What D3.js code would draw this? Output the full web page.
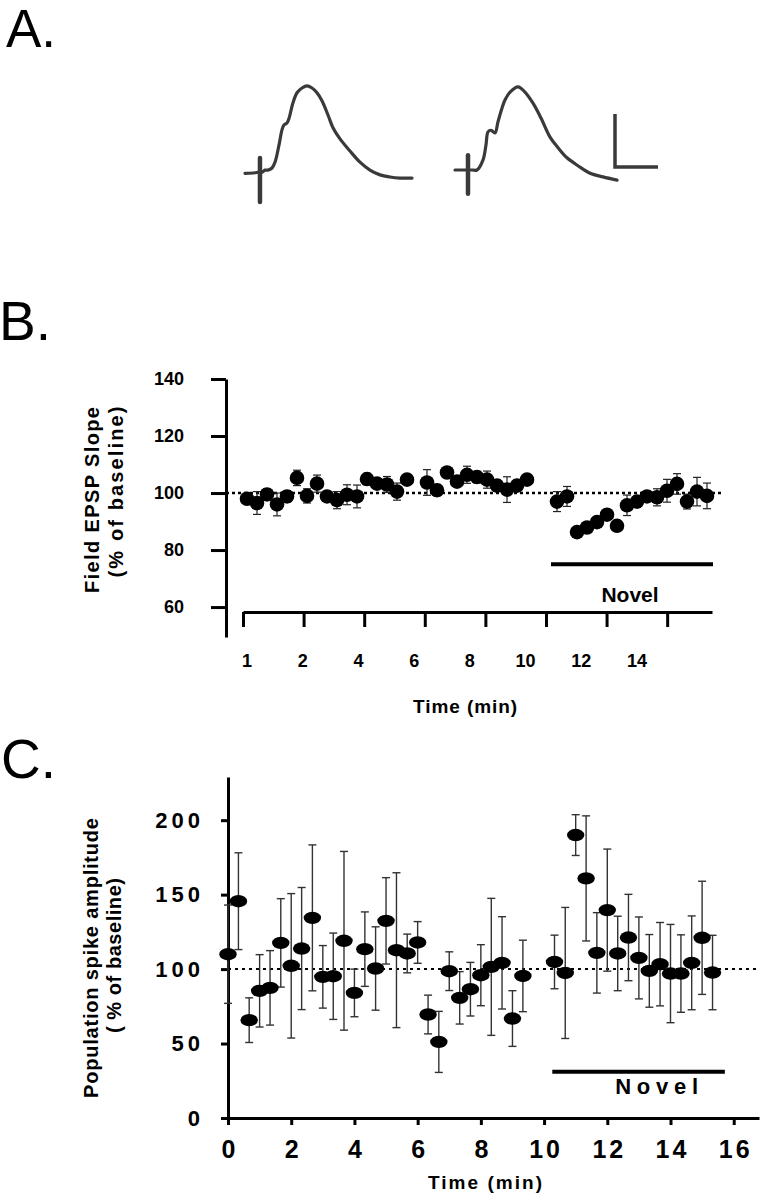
<!DOCTYPE html>
<html><head><meta charset="utf-8">
<script src="https://cdn.jsdelivr.net/npm/d3@7"></script>
<style>
body{margin:0;background:#fff}
svg{display:block}
text{font-family:"Liberation Sans",Arial,Helvetica,sans-serif}
</style>
</head><body>
<svg id="chart" width="780" height="1200"></svg>
<script>
// ---------- Panel A: example field traces (ms, mV) ----------
const traceT1 = [0,1.16,1.51,1.98,2.33,2.67,3.14,3.49,3.95,4.30,4.53,4.88,5.12,5.58,6.05,6.63,7.21,7.79,8.37,8.95,9.65,10.23,11.05,12.21,13.37,14.53,15.70,16.86,18.02,19.42];
const traceV1 = [0,0.01,0.02,0.02,0.06,0.06,0.10,0.21,0.53,0.82,0.91,0.95,1.04,1.33,1.52,1.61,1.65,1.61,1.52,1.37,1.10,0.86,0.65,0.42,0.21,0.06,-0.03,-0.07,-0.09,-0.09];
const traceT2 = [0,1.16,1.98,2.56,3.26,3.60,3.84,4.19,4.65,5.0,5.47,5.81,6.40,7.33,8.14,9.07,10.0,11.05,11.98,13.02,14.30,15.70,17.21,18.84];
const traceV2 = [0,0,0,0,0.19,0.47,0.72,0.75,0.70,0.91,1.17,1.32,1.47,1.57,1.47,1.26,0.98,0.62,0.42,0.23,0.08,-0.06,-0.13,-0.19];
const artifactT = [1.74, 1.51];
const artifactTop = [0.29, 0.28];
const artifactBottom = [-0.54, -0.45];
const scaleBarMs = 5, scaleBarMv = 1;

// ---------- Panel B: field EPSP slope ----------
const bSample = [0,1,2,3,4,5,6,7,8,9,10,11,12,13,14,15,16,18,19,20,21,22,23,24,25,26,27,28,31,32,33,34,35,36,37,38,39,40,41,42,43,44,45,46];
const bValue  = [98,96.5,99.5,96,98.8,105.3,99,103.3,98.8,97.5,99.4,98.8,104.9,103.3,103,100.5,104.7,103.7,101,107.2,104,106.4,105.6,104.7,102.6,101.2,102.6,104.7,97,98.8,86.3,87.9,89.8,92.4,88.5,95.7,97,98.8,98.5,100.8,103.2,97,100.5,99];
const bError  = [1.5,4,2,4,2,2.7,2.5,3,1.5,3,3.5,4,2,1.5,2.8,3,1.5,4.5,2,1.5,1.5,3,2,3,2,4.5,2,1.5,3.5,3.5,1,1,1,1,1,3.6,2,1.5,3,4,3.6,2.6,5,4.5];
const bYTicks = [60,80,100,120,140];
const bXTickLabels = ["1","2","4","6","8","10","12","14"];
const bNovelSpan = [30.4, 46.6];
const bNovelLevel = 75;

// ---------- Panel C: population spike amplitude ----------
const cTime  = [0,0.33,0.67,1,1.33,1.67,2,2.33,2.67,3,3.33,3.67,4,4.33,4.67,5,5.33,5.67,6,6.33,6.67,7,7.33,7.67,8,8.33,8.67,9,9.33,10.33,10.67,11,11.33,11.67,12,12.33,12.67,13,13.33,13.67,14,14.33,14.67,15,15.33];
const cValue = [110,145.6,65.7,85.4,87.4,117.6,102.2,113.8,134.4,94.8,95.2,119,84,113.4,100.4,132.4,112.7,110.5,117.9,69.5,51.1,98.6,80.7,86.5,95.9,101.5,104.2,66.8,95.4,104.8,97.4,190,160.9,110.9,139.6,110.5,121.2,107.5,98.8,103.3,97,97,104.2,121,97.7];
const cError = [33,32.5,15,24.3,25,29.7,48.5,41,49,21,29,60,16,25,28,29,52,13,14,13,20.5,13,17.6,18,20.5,46,31,18.7,24,18,44,13.7,42,27,41,25,29,27.5,24.4,28,33,26,31.5,38,25];
const cYTicks = [0,50,100,150,200];
const cXTicks = [0,2,4,6,8,10,12,14,16];
const cNovelSpan = [10.26, 15.72];
const cNovelLevel = 31;

const svg = d3.select("#chart");
svg.append("rect").attr("width",780).attr("height",1200).attr("fill","#fff");

// panel letters
[["A.",6,47,53],["B.",-1,340,55],["C.",1,778,55]].forEach(([t,x,y,fs])=>{
  svg.append("text").attr("x",x).attr("y",y).attr("font-size",fs).attr("fill","#000").text(t);
});

// ---------- Panel A ----------
const ax = d3.scaleLinear().domain([0,1]).range([0,8.6]);
const ay = d3.scaleLinear().domain([0,1]).range([0,-53]);
const traceLine = d3.line().x(d=>ax(d[0])).y(d=>ay(d[1])).curve(d3.curveCatmullRom.alpha(0.5));
const traces = [
  {T:traceT1, V:traceV1, origin:[245,173.3]},
  {T:traceT2, V:traceV2, origin:[455,170]}
];
traces.forEach((tr,i)=>{
  const g = svg.append("g").attr("transform",`translate(${tr.origin[0]},${tr.origin[1]})`);
  g.append("path").attr("d",traceLine(tr.T.map((t,k)=>[t,tr.V[k]])))
    .attr("fill","none").attr("stroke","#3a3a3a").attr("stroke-width",3.2).attr("stroke-linecap","round").attr("stroke-linejoin","round");
  g.append("line").attr("x1",ax(artifactT[i])).attr("x2",ax(artifactT[i]))
    .attr("y1",ay(artifactTop[i])).attr("y2",ay(artifactBottom[i]))
    .attr("stroke","#3a3a3a").attr("stroke-width",4.5).attr("stroke-linecap","round");
});
{
  const g = svg.append("g").attr("transform","translate(615,167)");
  g.append("path").attr("d",`M${ax(0)},${ay(scaleBarMv)}V${ay(0)}H${ax(scaleBarMs)}`)
    .attr("fill","none").attr("stroke","#3a3a3a").attr("stroke-width",3.5);
}

// ---------- Panel B ----------
const by = d3.scaleLinear().domain([49.5,140]).range([637,379]);
const bx = d3.scaleLinear().domain([0,46]).range([247,707]);
const bTick = d3.scaleLinear().domain([0,7.74]).range([243,712]);
const bLab = d3.scaleLinear().domain([0,7]).range([247,637]);

const bYAxis = svg.append("g").attr("transform","translate(226,0)")
  .call(d3.axisLeft(by).tickValues(bYTicks).tickSize(15).tickPadding(27).tickSizeOuter(0));
bYAxis.select(".domain").attr("stroke","#000").attr("stroke-width",3);
bYAxis.selectAll(".tick line").attr("stroke","#000").attr("stroke-width",3);
bYAxis.selectAll(".tick text").attr("font-size",18).attr("font-weight","bold").attr("fill","#000")
  .attr("font-family","'Liberation Sans',Arial,sans-serif");

const bXAxis = svg.append("g").attr("transform","translate(0,612)")
  .call(d3.axisBottom(bTick).tickValues(d3.range(8)).tickSize(15).tickFormat("").tickSizeOuter(0));
bXAxis.select(".domain").attr("stroke","#000").attr("stroke-width",3);
bXAxis.selectAll(".tick line").attr("stroke","#000").attr("stroke-width",3);

svg.append("g").selectAll("text").data(bXTickLabels).join("text")
  .attr("x",(d,i)=>bLab(i)).attr("y",667).attr("text-anchor","middle")
  .attr("font-size",18).attr("font-weight","bold").text(d=>d);

// dotted baseline
svg.append("line").attr("x1",226).attr("x2",723).attr("y1",by(100)).attr("y2",by(100))
  .attr("stroke","#000").attr("stroke-width",2.5).attr("stroke-dasharray","3,3");

// error bars B
const bData = bSample.map((s,i)=>({s, v:bValue[i], e:bError[i]}));
const bErr = svg.append("g").attr("stroke","#222").attr("stroke-width",1.2);
bData.forEach(d=>{
  const x = bx(d.s);
  bErr.append("line").attr("x1",x).attr("x2",x).attr("y1",by(d.v-d.e)).attr("y2",by(d.v+d.e));
  bErr.append("line").attr("x1",x-4).attr("x2",x+4).attr("y1",by(d.v-d.e)).attr("y2",by(d.v-d.e));
  bErr.append("line").attr("x1",x-4).attr("x2",x+4).attr("y1",by(d.v+d.e)).attr("y2",by(d.v+d.e));
});
svg.append("g").selectAll("circle").data(bData).join("circle")
  .attr("cx",d=>bx(d.s)).attr("cy",d=>by(d.v)).attr("r",7.3).attr("fill","#000");

// novel bar B
svg.append("line").attr("x1",bx(bNovelSpan[0])).attr("x2",bx(bNovelSpan[1]))
  .attr("y1",by(bNovelLevel)).attr("y2",by(bNovelLevel)).attr("stroke","#000").attr("stroke-width",4);
svg.append("text").attr("x",630).attr("y",602).attr("text-anchor","middle")
  .attr("font-size",21).attr("font-weight","bold").text("Novel");

// titles B
svg.append("text").attr("transform","translate(99,500) rotate(-90)").attr("text-anchor","middle")
  .attr("font-size",20).attr("font-weight","bold").attr("textLength",186).attr("lengthAdjust","spacing")
  .text("Field  EPSP  Slope");
svg.append("text").attr("transform","translate(123,492) rotate(-90)").attr("text-anchor","middle")
  .attr("font-size",20).attr("font-weight","bold").attr("textLength",171).attr("lengthAdjust","spacing")
  .text("(% of  baseline)");
svg.append("text").attr("x",465).attr("y",713).attr("text-anchor","middle")
  .attr("font-size",19).attr("font-weight","bold").attr("textLength",104).attr("lengthAdjust","spacing")
  .text("Time (min)");

// ---------- Panel C ----------
const cx = d3.scaleLinear().domain([0,16.8]).range([228,759]);
const cy = d3.scaleLinear().domain([0,229]).range([1118,777]);

const cYAxis = svg.append("g").attr("transform","translate(228,0)")
  .call(d3.axisLeft(cy).tickValues(cYTicks).tickSize(7).tickPadding(17).tickSizeOuter(0));
cYAxis.select(".domain").attr("stroke","#000").attr("stroke-width",3);
cYAxis.selectAll(".tick line").attr("stroke","#000").attr("stroke-width",3);
cYAxis.selectAll(".tick text").attr("font-size",22).attr("font-weight","bold").attr("fill","#000")
  .attr("letter-spacing",4).attr("font-family","'Liberation Sans',Arial,sans-serif");

const cXAxis = svg.append("g").attr("transform","translate(0,1118)")
  .call(d3.axisBottom(cx).tickValues(cXTicks).tickSize(7).tickPadding(15).tickSizeOuter(0));
cXAxis.select(".domain").attr("stroke","#000").attr("stroke-width",3);
cXAxis.selectAll(".tick line").attr("stroke","#000").attr("stroke-width",3);
cXAxis.selectAll(".tick text").attr("font-size",25).attr("font-weight","bold").attr("fill","#000")
  .attr("letter-spacing",3).attr("dx",1.5).attr("font-family","'Liberation Sans',Arial,sans-serif");

svg.append("line").attr("x1",228).attr("x2",760).attr("y1",cy(100)).attr("y2",cy(100))
  .attr("stroke","#000").attr("stroke-width",2).attr("stroke-dasharray","3,4");

const cData = cTime.map((t,i)=>({t, v:cValue[i], e:cError[i]}));
const cErr = svg.append("g").attr("stroke","#333").attr("stroke-width",1.4);
cData.forEach(d=>{
  const x = cx(d.t);
  cErr.append("line").attr("x1",x).attr("x2",x).attr("y1",cy(d.v-d.e)).attr("y2",cy(d.v+d.e));
  cErr.append("line").attr("x1",x-4).attr("x2",x+4).attr("y1",cy(d.v-d.e)).attr("y2",cy(d.v-d.e));
  cErr.append("line").attr("x1",x-4).attr("x2",x+4).attr("y1",cy(d.v+d.e)).attr("y2",cy(d.v+d.e));
});
svg.append("g").selectAll("ellipse").data(cData).join("ellipse")
  .attr("cx",d=>cx(d.t)).attr("cy",d=>cy(d.v)).attr("rx",8.7).attr("ry",6.2).attr("fill","#000");

svg.append("line").attr("x1",cx(cNovelSpan[0])).attr("x2",cx(cNovelSpan[1]))
  .attr("y1",cy(cNovelLevel)).attr("y2",cy(cNovelLevel)).attr("stroke","#000").attr("stroke-width",4);
svg.append("text").attr("x",656.7).attr("y",1094).attr("text-anchor","middle")
  .attr("font-size",22).attr("font-weight","bold").attr("textLength",83).attr("lengthAdjust","spacing")
  .text("Novel");

svg.append("text").attr("transform","translate(98,958) rotate(-90)").attr("text-anchor","middle")
  .attr("font-size",20).attr("font-weight","bold").attr("textLength",280).attr("lengthAdjust","spacing")
  .text("Population spike amplitude");
svg.append("text").attr("transform","translate(121,955.5) rotate(-90)").attr("text-anchor","middle")
  .attr("font-size",20).attr("font-weight","bold").attr("textLength",155).attr("lengthAdjust","spacing")
  .text("( % of baseline)");
svg.append("text").attr("x",485).attr("y",1189).attr("text-anchor","middle")
  .attr("font-size",19).attr("font-weight","bold").attr("textLength",114).attr("lengthAdjust","spacing")
  .text("Time  (min)");
</script>
</body></html>
